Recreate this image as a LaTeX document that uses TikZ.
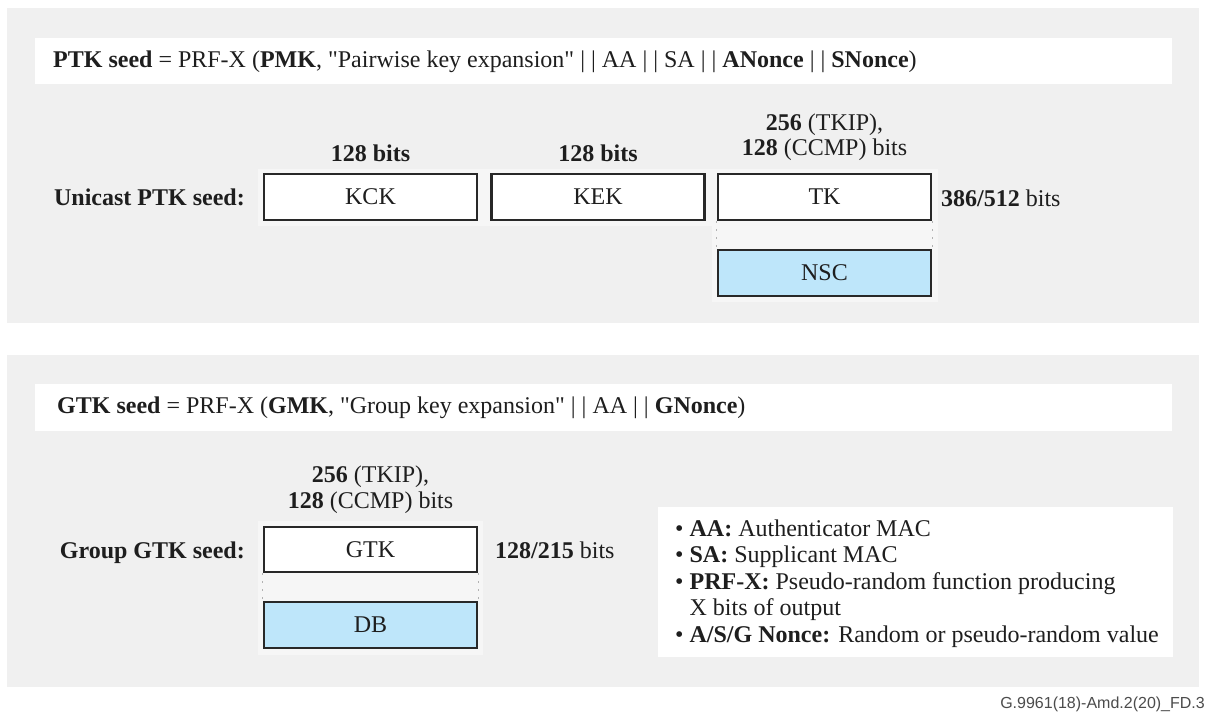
\documentclass[tikz,border=0pt]{standalone}
\usepackage{fontspec}
\setmainfont{Liberation Serif}[Ligatures=TeXOff]
\newfontfamily\footfont{Liberation Sans}
\definecolor{panelgray}{RGB}{240,240,240}
\definecolor{softwhite}{RGB}{246,246,246}
\definecolor{keyblue}{RGB}{190,230,250}
\definecolor{inkc}{RGB}{30,30,30}
\definecolor{linec}{RGB}{40,40,40}
\tikzset{
  panel/.style={fill=panelgray, draw=none},
  bar/.style={fill=white, draw=none},
  keybox/.style={draw=linec, line width=2.5pt, fill=white, minimum width=213pt, minimum height=46pt, inner sep=0pt, text=inkc, font=\fontsize{24}{27}\selectfont},
  bluebox/.style={keybox, fill=keyblue},
  txt/.style={text=inkc, inner sep=0pt, font=\fontsize{24}{27}\selectfont},
  dashline/.style={draw=gray!60, line width=0.8pt, dash pattern=on 2pt off 6pt},
}
\begin{document}
\begin{tikzpicture}[x=1pt,y=-1pt]
\useasboundingbox (0,0) rectangle (1206,713);
\fill[white] (0,0) rectangle (1206,713);
% panels
\fill[panel] (7,8) rectangle (1199,323);
\fill[panel] (7,355) rectangle (1199,687);
\fill[bar] (35,38) rectangle (1172,84);
\fill[bar] (35,384) rectangle (1172,431);
\fill[softwhite] (258,169) rectangle (938,226);
\fill[softwhite] (712,169) rectangle (938,302);
\fill[softwhite] (258,521) rectangle (483,655);
\fill[white] (658,507) rectangle (1173,657);

% titles
\node[txt, anchor=base west] (ptktitle) at (53,67) {\textbf{PTK seed} = PRF-X (\textbf{PMK}, "Pairwise key expansion" | | AA | | SA | | \textbf{ANonce} | | \textbf{SNonce})};
\node[txt, anchor=base west] (gtktitle) at (57,413) {\textbf{GTK seed} = PRF-X (\textbf{GMK}, "Group key expansion" | | AA | | \textbf{GNonce})};

% unicast row
\node[txt, anchor=base east] (unilabel) at (245,205) {\textbf{Unicast PTK seed:}};
\node[keybox] (kck) at (370.5,197) {KCK};
\node[keybox] (kek) at (598,197) {KEK};
\node[keybox] (tk) at (824.5,197) {TK};
\node[bluebox] (nsc) at (824.5,273) {NSC};
\draw[dashline] (tk.south west) -- (nsc.north west);
\draw[dashline] (tk.south east) -- (nsc.north east);
\node[txt, anchor=base] (kckbits) at (370.5,161) {\textbf{128 bits}};
\node[txt, anchor=base] (kekbits) at (598,161) {\textbf{128 bits}};
\node[txt, anchor=base] (tkbitsa) at (824.5,130) {\textbf{256} (TKIP),};
\node[txt, anchor=base] (tkbitsb) at (824.5,155) {\textbf{128} (CCMP) bits};
\node[txt, anchor=base west] (ptktotal) at (941,206) {\textbf{386/512} bits};

% group row
\node[txt, anchor=base east] (grplabel) at (245,558) {\textbf{Group GTK seed:}};
\node[keybox, minimum height=45pt] (gtk) at (370.5,549.5) {GTK};
\node[bluebox] (db) at (370.5,625) {DB};
\draw[dashline] (gtk.south west) -- (db.north west);
\draw[dashline] (gtk.south east) -- (db.north east);
\node[txt, anchor=base] (gtkbitsa) at (370.5,482) {\textbf{256} (TKIP),};
\node[txt, anchor=base] (gtkbitsb) at (370.5,508) {\textbf{128} (CCMP) bits};
\node[txt, anchor=base west] (gtktotal) at (495,558) {\textbf{128/215} bits};

% legend
\node[txt, anchor=base west] (lega) at (675,536) {• \textbf{AA:} Authenticator MAC};
\node[txt, anchor=base west] (legb) at (675,562) {• \textbf{SA:} Supplicant MAC};
\node[txt, anchor=base west] (legc) at (675,589) {• \textbf{PRF-X:} Pseudo-random function producing};
\node[txt, anchor=base west] (legd) at (675,615) {\phantom{• }X bits of output};
\node[txt, anchor=base west] (lege) at (675,642) {• \textbf{A/S/G Nonce:} Random or pseudo-random value};

% footer
\node[anchor=base east, inner sep=0pt, text=black!70, font=\footfont\fontsize{16}{19}\selectfont] (foot) at (1205,708) {G.9961(18)-Amd.2(20)\_FD.3};
\end{tikzpicture}
\end{document}
